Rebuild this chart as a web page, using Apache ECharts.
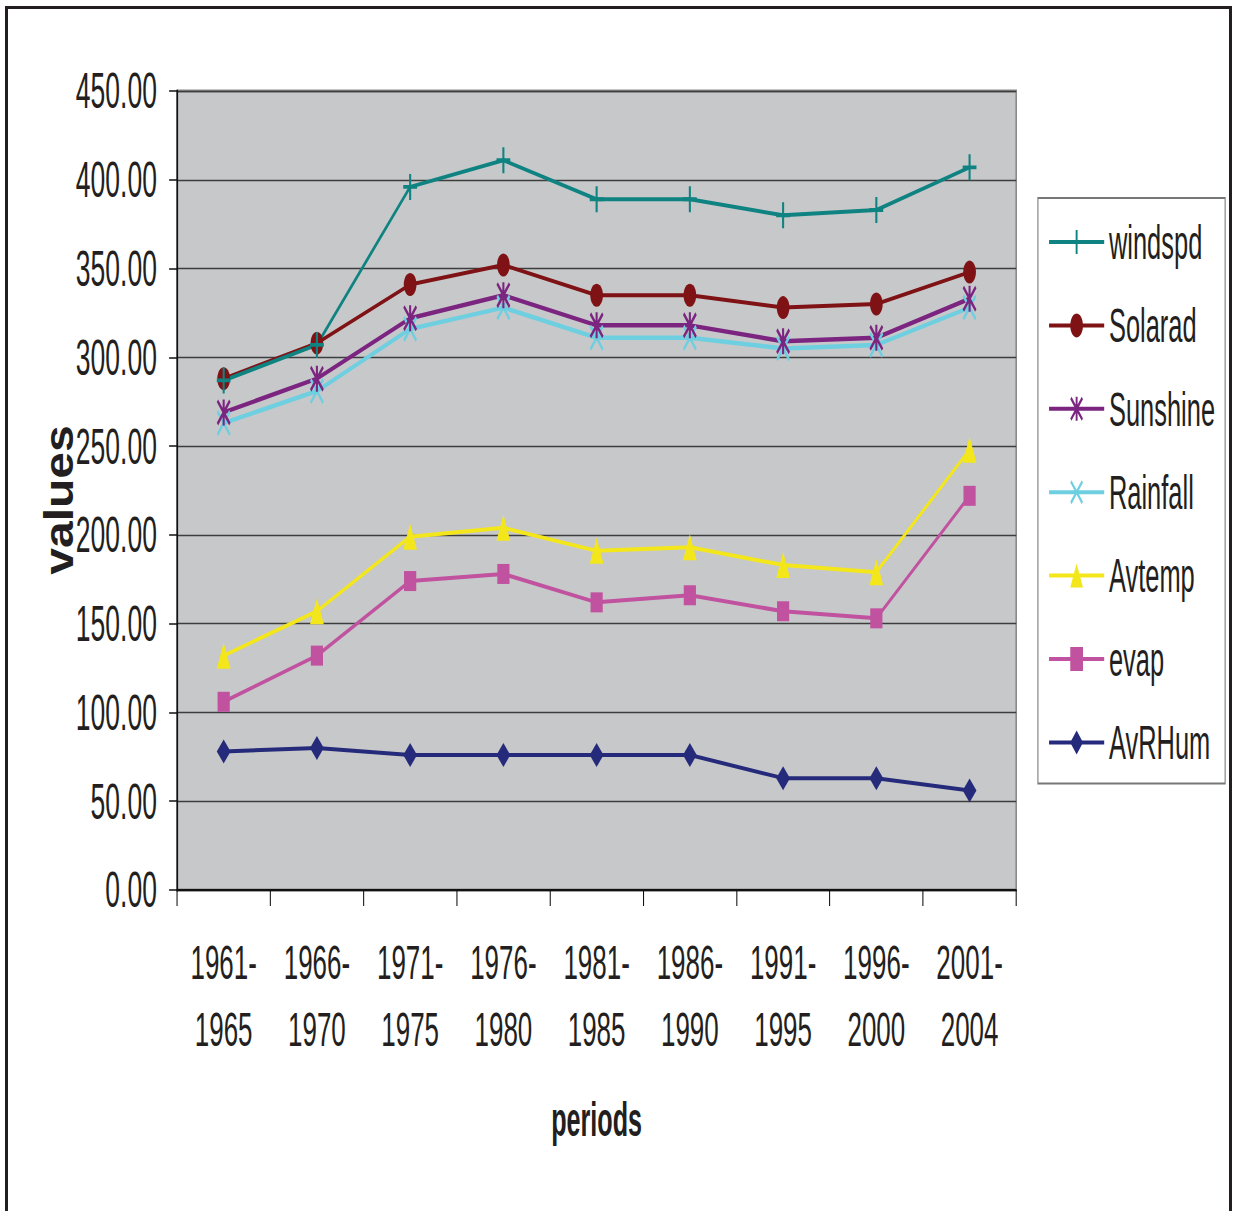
<!DOCTYPE html>
<html>
<head>
<meta charset="utf-8">
<script src="https://cdn.jsdelivr.net/npm/echarts@6/dist/echarts.min.js"></script>
<style>
  html, body { margin: 0; padding: 0; background: #fff; width: 1233px; height: 1211px; overflow: hidden; }
  #frame { position: absolute; left: 5px; top: 6px; width: 1227px; height: 1230px; box-sizing: border-box;
           border: 3px solid #231f20; border-bottom: none; }
  /* the chart is laid out wide and narrowed horizontally, giving the condensed look */
  #chart { position: absolute; left: 0; top: 0; width: 2326px; height: 1211px;
           transform: scaleX(0.530095); transform-origin: 0 0; }
</style>
</head>
<body>
<div id="frame"></div>
<div id="chart"></div>
<script>
// periods on the x axis
const periods = ['1961-1965', '1966-1970', '1971-1975', '1976-1980', '1981-1985',
                 '1986-1990', '1991-1995', '1996-2000', '2001-2004'];

// series values per period
const windspd  = [287, 307, 396, 411, 389, 389, 380, 383, 407];
const solarad  = [288, 308, 341, 352, 335, 335, 328, 330, 348];
const sunshine = [269, 288, 322, 335, 318, 318, 309, 311, 333];
const rainfall = [263, 281, 316, 328, 311, 311, 305, 307, 328];
const avtemp   = [132, 157, 199, 204, 191, 193, 183, 179, 248];
const evap     = [106, 132, 174, 178, 162, 166, 157, 153, 222];
const avrhum   = [78, 80, 76, 76, 76, 76, 63, 63, 56];

// value axis range
const yMin = 0, yMax = 450, yStep = 50;

const FONT = "'Liberation Sans', Arial, Helvetica, sans-serif";
const INK = '#231f20';

// marker outlines
const PLUS = 'path://M8.5,0H11.5V20H8.5Z M0,8.5H20V11.5H0Z';
const STAR = 'path://M8.5,0H11.5V20H8.5Z M0,2L2,0L20,18L18,20Z M18,0L20,2L2,20L0,18Z';
const CROSS = 'path://M0,2L2,0L20,18L18,20Z M18,0L20,2L2,20L0,18Z';

const defs = [
  { name: 'windspd',  data: windspd,  color: '#0f8381', symbol: PLUS,       size: [26, 26], width: 4 },
  { name: 'Solarad',  data: solarad,  color: '#7f1215', symbol: 'circle',   size: [24, 23], width: 4 },
  { name: 'Sunshine', data: sunshine, color: '#7b2580', symbol: STAR,       size: [26, 26], width: 4.5 },
  { name: 'Rainfall', data: rainfall, color: '#6dcfe0', symbol: CROSS,      size: [26, 26], width: 4.5 },
  { name: 'Avtemp',   data: avtemp,   color: '#f3e71b', symbol: 'triangle', size: [26, 26], width: 4 },
  { name: 'evap',     data: evap,     color: '#c0529f', symbol: 'rect',     size: [23, 20], width: 4 },
  { name: 'AvRHum',   data: avrhum,   color: '#252b7a', symbol: 'diamond',  size: [26, 24], width: 4 }
];

// later series paint on top, so the first legend entries are added last
const series = defs.slice().reverse().map(d => ({
  name: d.name,
  type: 'line',
  data: d.data,
  symbol: d.symbol,
  symbolSize: d.size,
  showAllSymbol: true,
  color: d.color,
  lineStyle: { color: d.color, width: d.width },
  itemStyle: { color: d.color, borderWidth: 0 },
  emphasis: { disabled: true }
}));

const chart = echarts.init(document.getElementById('chart'), null, { renderer: 'svg' });
chart.setOption({
  animation: false,
  backgroundColor: 'transparent',
  textStyle: { fontFamily: FONT },
  grid: {
    left: 334, top: 91, width: 1583, height: 799,
    show: true, backgroundColor: '#c7c8ca', borderColor: '#8a8a8a', borderWidth: 3
  },
  legend: {
    orient: 'vertical',
    left: 1958, top: 198,
    padding: [20, 19, 17, 19],
    itemGap: 35.4,
    itemWidth: 104,
    itemHeight: 30,
    borderColor: '#777', borderWidth: 2,
    backgroundColor: '#fff',
    data: defs.map(d => d.name),
    lineStyle: { width: 4 },
    textStyle: { fontFamily: FONT, fontSize: 48, lineHeight: 46, color: INK, padding: [0, 0, 0, 4] },
    selectedMode: false
  },
  xAxis: {
    type: 'category',
    data: periods,
    boundaryGap: true,
    name: 'periods',
    nameLocation: 'middle',
    nameGap: 206,
    nameTextStyle: { fontFamily: FONT, fontSize: 47.5, fontWeight: 'bold', color: INK },
    axisLine: { show: true, lineStyle: { color: '#111', width: 2 } },
    axisTick: { show: true, length: 16, lineStyle: { color: '#111', width: 2 } },
    axisLabel: {
      interval: 0, margin: 39, fontFamily: FONT, fontSize: 49, lineHeight: 67, color: INK,
      formatter: v => v.replace('-', '-\n')
    },
    splitLine: { show: false }
  },
  yAxis: {
    type: 'value',
    min: yMin, max: yMax, interval: yStep,
    axisLine: { show: true, lineStyle: { color: '#111', width: 3 } },
    axisTick: { show: true, length: 15, lineStyle: { color: '#111', width: 1.5 } },
    axisLabel: {
      margin: 38, fontFamily: FONT, fontSize: 50, color: INK,
      formatter: v => v.toFixed(2)
    },
    splitLine: { show: true, lineStyle: { color: '#3d3d3d', width: 1.3 } }
  },
  graphic: [{
    type: 'text',
    z: -1,
    x: 111, y: 500,
    rotation: Math.PI / 2,
    scaleY: 1.62,
    style: {
      text: 'values',
      font: "bold 48px 'Liberation Sans', Arial, sans-serif",
      fill: INK,
      align: 'center',
      verticalAlign: 'middle'
    }
  }],
  series: series
});
</script>
</body>
</html>
